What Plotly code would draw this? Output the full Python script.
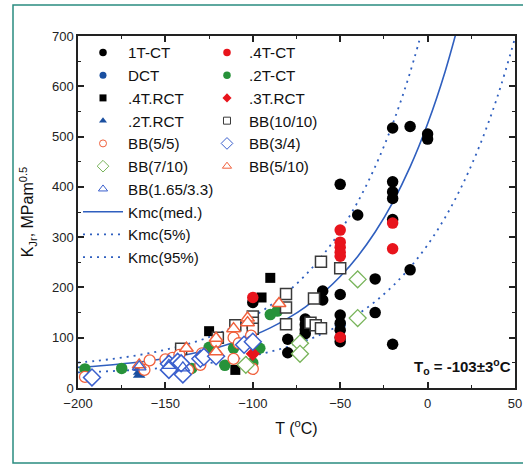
import plotly.graph_objects as go

# ---------------- data ----------------
T_1tct = [-20, -10, 0, 0, -50, -40, -20, -20, -20, -20, -10, -30, -30, -20,
          -50, -50, -50, -50, -50, -50, -60, -60, -70, -70, -70, -70, -80, -80, -100]
K_1tct = [517, 520, 505, 495, 405, 344, 410, 390, 377, 335, 235, 217, 150, 87,
          186, 145, 129, 115, 100, 92, 193, 175, 137, 126, 116, 108, 97, 70, 170]

T_dct = [-50]
K_dct = [125]

T_4tct = [-100, -50, -50, -50, -50, -50, -50, -20, -20]
K_4tct = [180, 314, 290, 280, 270, 262, 101, 328, 277]

T_2tct = [-196, -175, -135, -125, -116, -111, -100, -96, -90, -86]
K_2tct = [38, 39, 39, 81, 45, 79, 50, 79, 146, 153]

T_4trct = [-125, -110, -110, -95, -90]
K_4trct = [113, 122, 36, 180, 219]

T_3trct = [-100]
K_3trct = [68]

T_2trct = [-165, -165, -165]
K_2trct = [40, 32, 26]

T_bb1010 = [-141, -120, -110, -100, -100, -100, -81, -81, -81, -65, -67, -64, -61, -61, -50]
K_bb1010 = [78, 100, 125, 142, 130, 118, 187, 160, 127, 178, 130, 125, 119, 251, 238]

T_bb55 = [-196, -162, -159, -150, -146, -142, -137, -130, -129, -121, -121,
          -111, -111, -108, -101, -101, -100]
K_bb55 = [22, 36, 55, 57, 60, 66, 36, 46, 69, 66, 92, 100, 58, 89, 104, 92, 38]

T_bb34 = [-192, -148, -148, -143, -140, -141, -130, -128, -121, -105, -100]
K_bb34 = [21, 48, 36, 52, 27, 49, 58, 62, 63, 86, 92]

T_bb710 = [-40, -40, -73, -73, -104]
K_bb710 = [216, 139, 89, 68, 46]

T_bb510 = [-165, -138, -121, -121, -111, -103, -103, -85]
K_bb510 = [46, 79, 99, 72, 118, 139, 130, 168]

T_bb165 = [-165, -140, -148]
K_bb165 = [42, 40, 45]

# master-curve readings (T0 = -103 C)
T_curve = [-200, -190, -180, -170, -160, -150, -140, -130, -120, -110, -100, -90,
           -80, -70, -60, -50, -40, -30, -20, -10, 0, 10, 20, 30, 40, 50]
K_med = [41.1, 43.4, 46.2, 49.6, 53.7, 58.7, 64.7, 71.9, 80.7, 91.3, 104.1, 119.6,
         138.4, 161.0, 188.5, 221.6, 261.7, 310.2, 368.8, 439.7, 525.5, 629.1, 754.5,
         None, None, None]
K_5 = [31.0, 32.3, 33.7, 35.5, 37.6, 40.2, 43.4, 47.2, 51.8, 57.3, 64.0, 72.2,
       82.0, 93.8, 108.2, 125.6, 146.6, 171.9, 202.6, 239.8, 284.7, 338.9, 404.6,
       484.0, 579.9, 696.0]
K_95 = [50.5, 53.9, 57.9, 62.8, 68.8, 76.0, 84.6, 95.1, 107.8, 123.2, 141.8, 164.2,
        191.3, 224.2, 263.9, 311.9, 369.9, 440.1, 525.0, 627.6, 751.7, None, None,
        None, None, None]

x_ticks = [-200, -150, -100, -50, 0, 50]
y_ticks = [0, 100, 200, 300, 400, 500, 600, 700]

# ---------------- styles ----------------
FONT = "Arial, Liberation Sans, sans-serif"
BLACK = "#000000"
RED = "#e8141c"
BLUE = "#1a4fa0"
GREEN = "#27923a"
GRAY = "#3a3a3a"
ORANGE = "#f0603c"
LBLUE = "#3a5fcd"
LGREEN = "#78b45a"
CURVE = "#2f5fbf"
LEG_FS = 15.2

series = [
    # name, T, K, symbol, size, fill, line color, line width
    ("DCT", T_dct, K_dct, "circle", 11, BLUE, BLUE, 0),
    ("1T-CT", T_1tct, K_1tct, "circle", 11.5, BLACK, BLACK, 0),
    (".4T.RCT", T_4trct, K_4trct, "square", 10, BLACK, BLACK, 0),
    (".2T-CT", T_2tct, K_2tct, "circle", 11.5, GREEN, GREEN, 0),
    (".4T-CT", T_4tct, K_4tct, "circle", 11.5, RED, RED, 0),
    (".3T.RCT", T_3trct, K_3trct, "diamond", 11, RED, RED, 0),
    (".2T.RCT", T_2trct, K_2trct, "triangle-up", 11, BLUE, BLUE, 0),
    ("BB(10/10)", T_bb1010, K_bb1010, "square", 11, "white", GRAY, 1.5),
    ("BB(5/5)", T_bb55, K_bb55, "circle", 11, "white", ORANGE, 1.3),
    ("BB(3/4)", T_bb34, K_bb34, "diamond", 13, "white", LBLUE, 1.5),
    ("BB(7/10)", T_bb710, K_bb710, "diamond", 13, "white", LGREEN, 1.3),
    ("BB(5/10)", T_bb510, K_bb510, "triangle-up", 12, "white", ORANGE, 1.5),
    ("BB(1.65/3.3)", T_bb165, K_bb165, "triangle-up", 12, "rgba(255,255,255,0)", LBLUE, 1.3),
]

legend_order_1 = ["1T-CT", "DCT", ".4T.RCT", ".2T.RCT", "BB(5/5)", "BB(7/10)", "BB(1.65/3.3)"]
legend_order_2 = [".4T-CT", ".2T-CT", ".3T.RCT", "BB(10/10)", "BB(3/4)", "BB(5/10)"]

fig = go.Figure()

# curves
fig.add_trace(go.Scatter(x=T_curve, y=K_med, mode="lines", name="Kmc(med.)",
                         line=dict(color=CURVE, width=1.6, shape="spline"),
                         legend="legend", legendrank=800))
fig.add_trace(go.Scatter(x=T_curve, y=K_5, mode="lines", name="Kmc(5%)",
                         line=dict(color=CURVE, width=1.8, dash="2px,5px", shape="spline"),
                         legend="legend", legendrank=900))
fig.add_trace(go.Scatter(x=T_curve, y=K_95, mode="lines", name="Kmc(95%)",
                         line=dict(color=CURVE, width=1.8, dash="2px,5px", shape="spline"),
                         legend="legend", legendrank=1000))

# data points (no legend)
for name, T, K, sym, size, fill, lc, lw in series:
    fig.add_trace(go.Scatter(x=T, y=K, mode="markers", name=name, showlegend=False,
                             legendgroup=name, cliponaxis=False,
                             marker=dict(symbol=sym, size=size, color=fill,
                                         line=dict(color=lc, width=lw))))

# legend-only entries with small symbols
info = {s[0]: s for s in series}
for lg, order in (("legend", legend_order_1), ("legend2", legend_order_2)):
    for i, name in enumerate(order):
        _, _, _, sym, size, fill, lc, lw = info[name]
        fig.add_trace(go.Scatter(x=[None], y=[None], mode="markers", name=name,
                                 legendgroup=name, legend=lg, legendrank=100 + i,
                                 marker=dict(symbol=sym, size=max(size - 4, 7), color=fill,
                                             line=dict(color=lc, width=min(lw, 1)))))

axis_common = dict(showline=True, linecolor="#222", linewidth=1.5, mirror="allticks",
                   ticks="inside", ticklen=6, tickwidth=1.5, tickcolor="#222",
                   showgrid=False, zeroline=False, automargin=False,
                   tickfont=dict(family=FONT, size=13, color="#222"),
                   minor=dict(ticks="inside", ticklen=3.5, tickwidth=1.2, tickcolor="#222"))

fig.update_layout(
    width=523, height=465,
    margin=dict(l=78, r=8, t=36, b=77),
    paper_bgcolor="white", plot_bgcolor="white",
    font=dict(family=FONT, color="#111"),
    xaxis=dict(range=[-200, 50], tickvals=x_ticks, **axis_common, ticklabelstandoff=3,
               title=dict(text="T (<sup>o</sup>C)", font=dict(family=FONT, size=16, color="#111"),
                          standoff=12)),
    yaxis=dict(range=[0, 700], tickvals=y_ticks, **axis_common,
               title=dict(text="K<sub>Jr</sub>, MPam<sup>0.5</sup>",
                          font=dict(family=FONT, size=16, color="#111"), standoff=14)),
    legend=dict(x=0.0, y=1.0, xanchor="left", yanchor="top", orientation="v",
                font=dict(family=FONT, size=LEG_FS, color="#111"), bgcolor="rgba(0,0,0,0)",
                traceorder="normal", itemwidth=40, tracegroupgap=0),
    legend2=dict(x=0.2906, y=1.0, xanchor="left", yanchor="top", orientation="v",
                 font=dict(family=FONT, size=LEG_FS, color="#111"), bgcolor="rgba(0,0,0,0)",
                 traceorder="normal", itemwidth=34, tracegroupgap=0),
    showlegend=True,
)
fig.update_xaxes(minor_tickvals=[-175, -125, -75, -25, 25])
fig.update_yaxes(minor_tickvals=[50, 150, 250, 350, 450, 550, 650])

fig.add_annotation(xref="paper", yref="paper", x=0.995, y=0.025, xanchor="right", yanchor="bottom",
                   text="<b>T<sub>o</sub> = -103±3<sup>o</sup>C</b>", showarrow=False,
                   font=dict(family=FONT, size=15, color="#111"))

# teal frame around the figure
fig.add_shape(type="rect", xref="paper", yref="paper",
              x0=(13 - 78) / 437, x1=(530 - 78) / 437,
              y0=-(463 - 388) / 352, y1=1 + (36 - 5) / 352,
              line=dict(color="#2a8c80", width=1.5), fillcolor="rgba(0,0,0,0)", layer="below")

fig.write_html("out.html", config={"displayModeBar": False},
               post_script="document.body.style.margin='0px';")
